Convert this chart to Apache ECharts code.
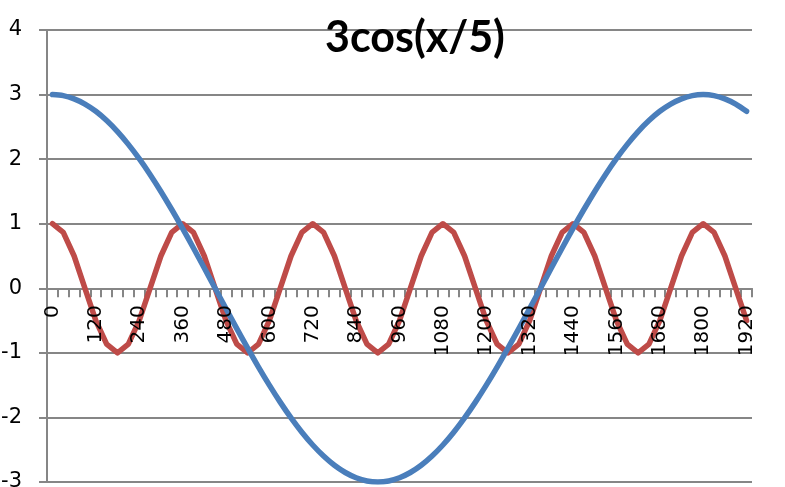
<!DOCTYPE html>
<html>
<head>
<meta charset="utf-8">
<script src="https://cdn.jsdelivr.net/npm/echarts@6/dist/echarts.min.js"></script>
<style>html,body{margin:0;padding:0;background:#fff}#c{width:785px;height:487px}</style>
</head>
<body>
<div id="c"></div>
<script>
var titleText = '3cos(x/5)';
var categories = [0,30,60,90,120,150,180,210,240,270,300,330,360,390,420,450,480,510,540,570,600,630,660,690,720,750,780,810,840,870,900,930,960,990,1020,1050,1080,1110,1140,1170,1200,1230,1260,1290,1320,1350,1380,1410,1440,1470,1500,1530,1560,1590,1620,1650,1680,1710,1740,1770,1800,1830,1860,1890,1920];
var blueValues = [3,2.984,2.934,2.853,2.741,2.598,2.427,2.229,2.007,1.763,1.5,1.22,0.927,0.624,0.314,0,
  -0.314,-0.624,-0.927,-1.22,-1.5,-1.763,-2.007,-2.229,-2.427,-2.598,-2.741,-2.853,-2.934,-2.984,-3,
  -2.984,-2.934,-2.853,-2.741,-2.598,-2.427,-2.229,-2.007,-1.763,-1.5,-1.22,-0.927,-0.624,-0.314,0,
  0.314,0.624,0.927,1.22,1.5,1.763,2.007,2.229,2.427,2.598,2.741,2.853,2.934,2.984,3,
  2.984,2.934,2.853,2.741];
var redValues = [1,0.866,0.5,0,-0.5,-0.866,-1,-0.866,-0.5,0,0.5,0.866,
  1,0.866,0.5,0,-0.5,-0.866,-1,-0.866,-0.5,0,0.5,0.866,
  1,0.866,0.5,0,-0.5,-0.866,-1,-0.866,-0.5,0,0.5,0.866,
  1,0.866,0.5,0,-0.5,-0.866,-1,-0.866,-0.5,0,0.5,0.866,
  1,0.866,0.5,0,-0.5,-0.866,-1,-0.866,-0.5,0,0.5,0.866,
  1,0.866,0.5,0,-0.5];

var yMin = -3, yMax = 4;
var gridTop = 30, gridBottom = 5, H = 487;
var plotH = H - gridTop - gridBottom;
// distance from the bottom edge of the plot to the zero line
var zeroOffset = plotH * (0 - yMin) / (yMax - yMin);

var chart = echarts.init(document.getElementById('c'), null, {renderer:'canvas'});
chart.setOption({
  animation: false,
  backgroundColor: '#ffffff',
  title: {
    text: titleText, left: 320, top: 12,
    textStyle: {fontFamily: 'Lato', fontWeight: 'bold', fontSize: 43, color: '#000'}
  },
  grid: {left: 47, right: 33, top: gridTop, bottom: gridBottom, containLabel: false, outerBoundsMode: 'none'},
  xAxis: [{
    type: 'category', data: categories, boundaryGap: true,
    axisLine: {onZero: true, lineStyle: {color: '#868686', width: 2}},
    axisTick: {show: true, interval: 0, length: 9, lineStyle: {color: '#868686', width: 2}},
    axisLabel: {show: false},
    splitLine: {show: false}
  }, {
    type: 'category', data: categories, boundaryGap: true, position: 'bottom',
    offset: -zeroOffset, z: 5,
    axisLine: {show: false, onZero: false},
    axisTick: {show: false},
    axisLabel: {interval: 3, rotate: 90, margin: 17, color: '#000', fontFamily: 'DejaVu Sans', fontSize: 20},
    splitLine: {show: false}
  }],
  yAxis: {
    type: 'value', min: yMin, max: yMax, interval: 1,
    axisLine: {show: true, lineStyle: {color: '#868686', width: 2}},
    axisTick: {show: true, length: 8, lineStyle: {color: '#868686', width: 2}},
    axisLabel: {margin: 25, color: '#000', fontFamily: 'DejaVu Sans', fontSize: 21},
    splitLine: {show: true, lineStyle: {color: '#868686', width: 2}}
  },
  series: [
    {type: 'line', data: redValues, showSymbol: false, symbol: 'none',
     lineStyle: {color: '#be4b48', width: 5.5, join: 'round', cap: 'round'}},
    {type: 'line', data: blueValues, showSymbol: false, symbol: 'none', smooth: 0.3,
     lineStyle: {color: '#4a7ebb', width: 5.5, join: 'round', cap: 'round'}}
  ]
});
</script>
</body>
</html>
